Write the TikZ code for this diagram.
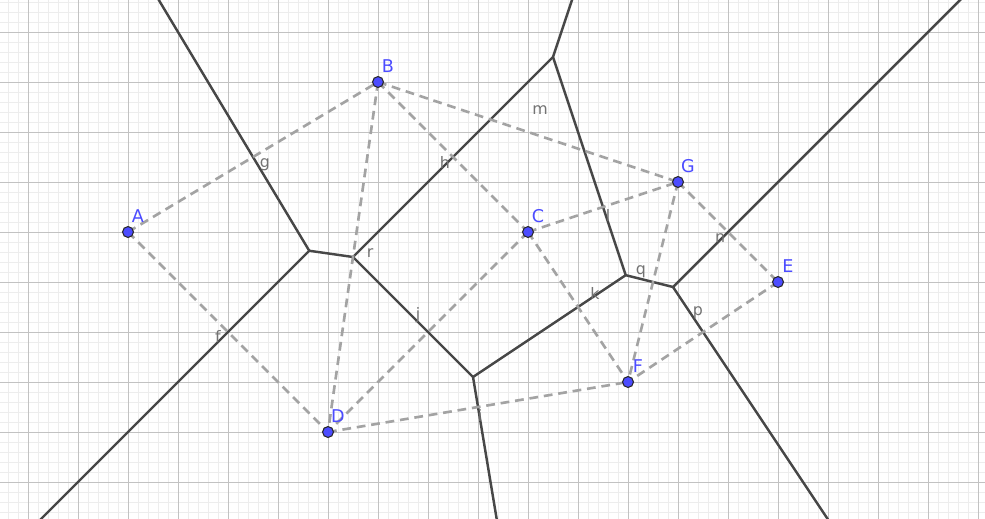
\documentclass[tikz,border=0pt]{standalone}
\usepackage{fontspec}
\setmainfont{DejaVu Sans}
\usetikzlibrary{calc}
\begin{document}
\begin{tikzpicture}[x=1cm,y=1cm,
  minorgrid/.style={draw=black!7,line width=0.35pt},
  majorgrid/.style={draw=black!24,line width=0.55pt},
  voronoi/.style={draw=black!72,line width=1.4pt},
  delaunay/.style={draw=black!36,line width=1.5pt,dash pattern=on 5pt off 3.3pt},
  pt/.style={circle,fill=blue!70!white,draw=black!85,line width=0.6pt,inner sep=0pt,minimum size=6.2pt},
  ptlabel/.style={text=blue!70!white,font=\fontsize{10}{11}\selectfont,inner sep=0pt},
  seglabel/.style={text=black!55,font=\fontsize{9}{10}\selectfont,inner sep=0pt}]
\useasboundingbox (-0.56,-0.72) rectangle (19.14,9.64);
\clip (-0.56,-0.72) rectangle (19.14,9.64);
\fill[white] (-0.56,-0.72) rectangle (19.14,9.64);
\draw[minorgrid,step=0.2] (-0.6,-0.8) grid (19.2,9.8);
\draw[majorgrid,step=1] (-1,-1) grid (19.2,9.8);
% Voronoi vertices
\coordinate (vabd) at (5.625,4.625);
\coordinate (vbcd) at (6.5,4.5);
\coordinate (vbcg) at (10.5,8.5);
\coordinate (vcdf) at (8.9,2.1);
\coordinate (vcfg) at (11.9545,4.1364);
\coordinate (vfge) at (12.9,3.9);
% ray ends
\coordinate (rab) at ($(vabd)+1.2*(-3,5)$);
\coordinate (rad) at ($(vabd)+6*(-1,-1)$);
\coordinate (rbg) at ($(vbcg)+0.6*(1,3)$);
\coordinate (rdf) at ($(vcdf)+0.6*(1,-6)$);
\coordinate (rge) at ($(vfge)+7*(1,1)$);
\coordinate (ref) at ($(vfge)+1.8*(2,-3)$);
% points
\coordinate (pA) at (2,5);
\coordinate (pB) at (7,8);
\coordinate (pC) at (10,5);
\coordinate (pD) at (6,1);
\coordinate (pE) at (15,4);
\coordinate (pF) at (12,2);
\coordinate (pG) at (13,6);
% Voronoi edges
\draw[voronoi] (rab) -- (vabd) -- (rad);
\draw[voronoi] (vabd) -- (vbcd);
\draw[voronoi] (vbcd) -- (vbcg) -- (rbg);
\draw[voronoi] (vbcd) -- (vcdf) -- (rdf);
\draw[voronoi] (vbcg) -- (vcfg);
\draw[voronoi] (vcdf) -- (vcfg) -- (vfge);
\draw[voronoi] (rge) -- (vfge) -- (ref);
% Delaunay edges
\draw[delaunay] (pA) -- (pB);
\draw[delaunay] (pA) -- (pD);
\draw[delaunay] (pB) -- (pC);
\draw[delaunay] (pB) -- (pD);
\draw[delaunay] (pB) -- (pG);
\draw[delaunay] (pC) -- (pD);
\draw[delaunay] (pC) -- (pG);
\draw[delaunay] (pC) -- (pF);
\draw[delaunay] (pG) -- (pF);
\draw[delaunay] (pG) -- (pE);
\draw[delaunay] (pE) -- (pF);
\draw[delaunay] (pD) -- (pF);
% segment labels
\node[seglabel] (lg) at (4.74,6.34) {g};
\node[seglabel] (lf) at (3.8,2.92) {f};
\node[seglabel] (lh) at (8.34,6.4) {h};
\node[seglabel] (lm) at (10.24,7.44) {m};
\node[seglabel] (ll) at (11.6,5.34) {l};
\node[seglabel] (ln) at (13.84,4.88) {n};
\node[seglabel] (lp) at (13.4,3.38) {p};
\node[seglabel] (lq) at (12.26,4.2) {q};
\node[seglabel] (lk) at (11.34,3.78) {k};
\node[seglabel] (lj) at (7.8,3.34) {j};
\node[seglabel] (li) at (9.04,1.34) {i};
\node[seglabel] (lr) at (6.84,4.58) {r};
% points
\foreach \p in {A,B,C,D,E,F,G} {
  \node[pt] (\p) at (p\p) {};
  \node[ptlabel] (lab\p) at ($(p\p)+(0.2,0.32)$) {\p};
}
\end{tikzpicture}
\end{document}
